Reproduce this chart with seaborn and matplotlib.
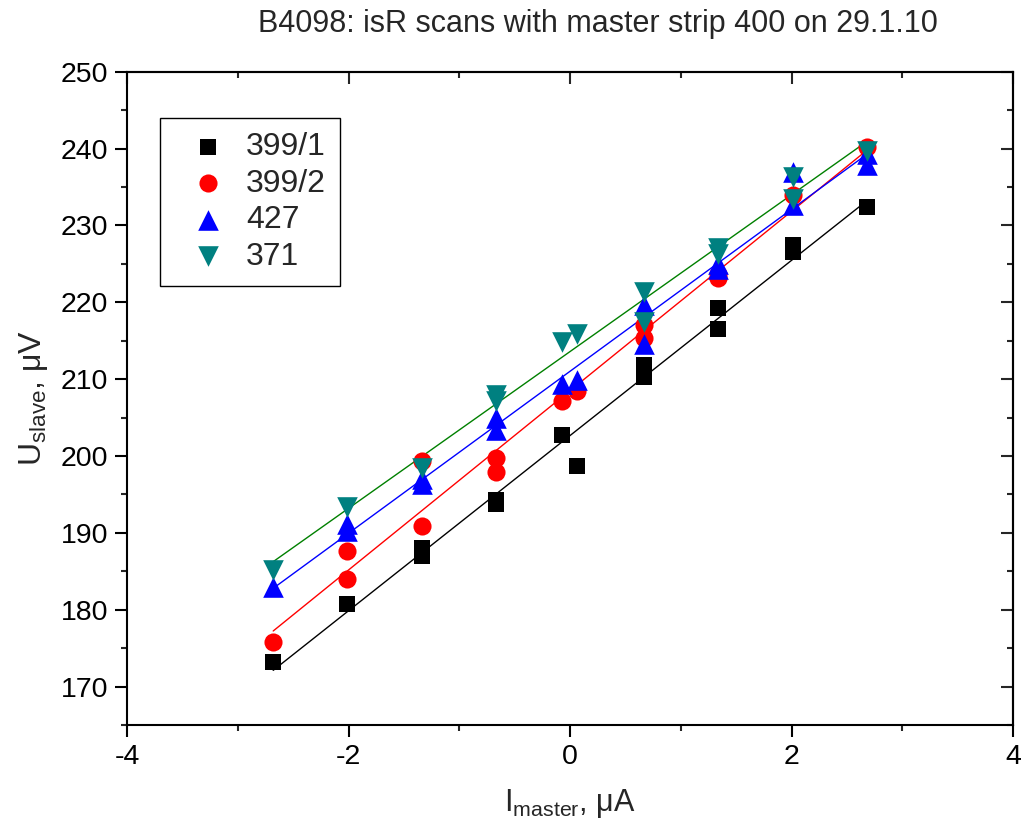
import matplotlib
matplotlib.use("Agg")
import numpy as np
import pandas as pd
import seaborn as sns
import matplotlib.pyplot as plt
from matplotlib.ticker import MultipleLocator

# ---------------- data ----------------
x_3991 = [-2.68, -2.01, -1.34, -1.34, -0.67, -0.67, -0.07, 0.06, 0.67, 0.67, 1.34, 1.34, 2.01, 2.01, 2.68]
y_3991 = [173.2, 180.8, 188.0, 187.0, 194.3, 193.8, 202.7, 198.7, 211.8, 210.3, 219.2, 216.5, 227.4, 226.6, 232.4]

x_3992 = [-2.68, -2.01, -2.01, -1.34, -1.34, -0.67, -0.67, -0.07, 0.06, 0.67, 0.67, 1.34, 1.34, 2.01, 2.68]
y_3992 = [175.8, 187.7, 184.0, 199.3, 190.9, 199.7, 197.9, 207.1, 208.4, 217.0, 215.3, 223.7, 223.1, 233.9, 240.2]

x_427 = [-2.68, -2.01, -2.01, -1.34, -1.34, -0.67, -0.67, -0.07, 0.06, 0.67, 0.67, 1.34, 1.34, 2.01, 2.01, 2.68, 2.68]
y_427 = [183.0, 191.2, 190.3, 197.0, 196.3, 204.9, 203.4, 209.4, 209.9, 219.6, 214.6, 225.0, 224.3, 236.9, 232.6, 237.8, 239.3]

x_371 = [-2.68, -2.01, -1.34, -0.67, -0.67, -0.07, 0.06, 0.67, 0.67, 1.34, 1.34, 2.01, 2.01, 2.68]
y_371 = [185.2, 193.4, 198.5, 207.9, 207.1, 214.8, 215.9, 221.3, 217.4, 226.3, 227.0, 236.3, 233.5, 239.7]

series_names = ["399/1", "399/2", "427", "371"]
xs = [x_3991, x_3992, x_427, x_371]
ys = [y_3991, y_3992, y_427, y_371]

title = "B4098: isR scans with master strip 400 on 29.1.10"
x_ticks = [-4, -2, 0, 2, 4]
y_ticks = [170, 180, 190, 200, 210, 220, 230, 240, 250]

# ---------------- style ----------------
marker_colors = ["#000000", "#ff0000", "#0000ff", "#008080"]
line_colors = ["#000000", "#ff0000", "#0000ff", "#008000"]
markers = ["s", "o", "^", "v"]
sizes = [140, 170, 220, 220]

sns.set_style("ticks")
plt.rcParams['font.family'] = ['Liberation Sans', 'DejaVu Sans']
plt.rcParams['mathtext.fontset'] = 'custom'
plt.rcParams['mathtext.rm'] = 'Liberation Sans'
plt.rcParams['mathtext.it'] = 'Liberation Sans:italic'
plt.rcParams['axes.linewidth'] = 1.5
plt.rcParams['axes.unicode_minus'] = False

fig = plt.figure(figsize=(10.21, 8.32), dpi=100)
ax = fig.add_axes([0.1244, 0.1286, 0.8678, 0.7852])

handles = []
for name, xv, yv, mc, lc, mk, s in zip(series_names, xs, ys, marker_colors, line_colors, markers, sizes):
    df = pd.DataFrame({"x": xv, "y": yv})
    sns.regplot(data=df, x="x", y="y", ci=None, scatter=False, ax=ax,
                line_kws=dict(color=lc, lw=1.0, zorder=2))
for name, xv, yv, mc, lc, mk, s in zip(series_names, xs, ys, marker_colors, line_colors, markers, sizes):
    df = pd.DataFrame({"x": xv, "y": yv})
    sns.scatterplot(data=df, x="x", y="y", marker=mk, color=mc, s=s,
                    linewidth=0, ax=ax, zorder=3, label=name, legend=False)
    handles.append(ax.collections[-1])

ax.set_xlim(-4, 4)
ax.set_ylim(165, 250)
ax.set_xticks(x_ticks)
ax.set_yticks(y_ticks)
ax.xaxis.set_minor_locator(MultipleLocator(1))
ax.yaxis.set_minor_locator(MultipleLocator(5))
ax.tick_params(axis='both', which='major', direction='out', length=8.6, width=1.5,
               labelsize=20.5, pad=5, colors='black')
ax.tick_params(axis='both', which='minor', direction='out', length=4.3, width=1.5)

# mirrored inward ticks on top and right
secx = ax.secondary_xaxis('top')
secx.set_xticks(x_ticks)
secx.xaxis.set_minor_locator(MultipleLocator(1))
secx.tick_params(which='major', direction='in', length=8.6, width=1.5, labeltop=False)
secx.tick_params(which='minor', direction='in', length=4.3, width=1.5)
secx.spines['top'].set_linewidth(1.5)
secy = ax.secondary_yaxis('right')
secy.set_yticks(y_ticks)
secy.yaxis.set_minor_locator(MultipleLocator(5))
secy.tick_params(which='major', direction='in', length=8.6, width=1.5, labelright=False)
secy.tick_params(which='minor', direction='in', length=4.3, width=1.5)
secy.spines['right'].set_linewidth(1.5)

for sp in ax.spines.values():
    sp.set_visible(True)
    sp.set_linewidth(1.5)
    sp.set_color('black')

ax.set_xlabel(r"I$_{\mathrm{master}}$, μA", fontsize=22, labelpad=12)
ax.set_ylabel(r"U$_{\mathrm{slave}}$, μV", fontsize=23, labelpad=8)

fig.text(598 / 1021, 1 - 24 / 832, title, fontsize=22, ha='center', va='center')

leg = ax.legend(handles=handles, labels=series_names, loc='upper left',
                bbox_to_anchor=(0.037, 0.929), borderaxespad=0, fontsize=23,
                frameon=True, fancybox=False, framealpha=1, edgecolor='black',
                handletextpad=0.15, labelspacing=0.2, borderpad=0.45,
                handlelength=2.1, markerscale=1.0)
leg.get_frame().set_linewidth(1.0)

fig.savefig("out.png", dpi=100)
